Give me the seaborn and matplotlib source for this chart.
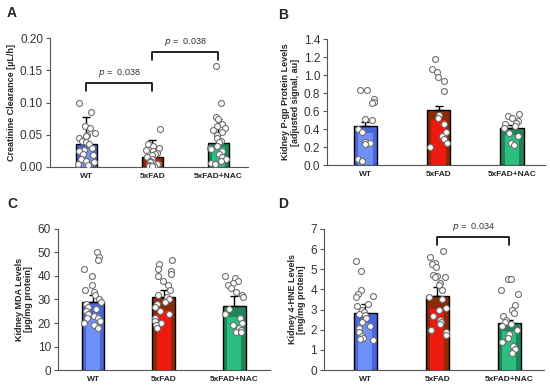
import numpy as np
import pandas as pd
import seaborn as sns
import matplotlib.pyplot as plt

groups = ['WT', '5xFAD', '5xFAD+NAC']

# A - creatinine clearance
a_wt = [0.100, 0.086, 0.063, 0.061, 0.053, 0.050, 0.048, 0.045, 0.040, 0.038, 0.035,
        0.030, 0.027, 0.025, 0.020, 0.018, 0.012, 0.010, 0.008, 0.005, 0.003]
a_fad = [0.059, 0.036, 0.033, 0.030, 0.027, 0.025, 0.022, 0.020, 0.018, 0.015, 0.012,
         0.010, 0.008, 0.007, 0.005, 0.004, 0.003, 0.002, 0.002, 0.001]
a_nac = [0.156, 0.099, 0.077, 0.074, 0.066, 0.063, 0.060, 0.058, 0.055, 0.050, 0.045,
         0.040, 0.038, 0.033, 0.030, 0.028, 0.025, 0.020, 0.015, 0.012, 0.010, 0.006, 0.004]
a_mean = [0.036, 0.015, 0.037]
a_err = [0.041, 0.027, 0.038]

# B - P-gp
b_wt = [0.83, 0.83, 0.74, 0.70, 0.69, 0.51, 0.50, 0.40, 0.37, 0.26, 0.24, 0.23, 0.07, 0.05, 0.04]
b_fad = [1.18, 1.07, 1.03, 0.98, 0.94, 0.82, 0.56, 0.52, 0.46, 0.37, 0.32, 0.29, 0.24, 0.20]
b_nac = [0.57, 0.54, 0.52, 0.49, 0.47, 0.46, 0.43, 0.41, 0.36, 0.32, 0.24, 0.22]
b_mean = [0.43, 0.61, 0.41]
b_err = [0.05, 0.05, 0.03]

# C - MDA
c_wt = [50, 48, 47, 43, 40, 36, 34, 33, 32, 30, 29, 28, 27, 26, 25, 24, 23, 22, 22, 21, 20, 19, 18]
c_fad = [47, 45, 43, 42, 41, 40, 38, 36, 34, 32, 31, 30, 29, 28, 27, 25, 24, 22, 21, 20, 19, 18]
c_nac = [40, 39, 38, 37, 36, 35, 33, 32, 31, 26, 24, 22, 20, 19, 18, 17, 16, 16]
c_mean = [29.0, 31.0, 27.3]
c_err = [3.0, 3.0, 4.0]

# D - 4-HNE
d_wt = [5.4, 4.9, 3.95, 3.75, 3.65, 3.6, 3.3, 3.2, 3.0, 2.9, 2.8, 2.75, 2.6, 2.4, 2.2,
        2.1, 1.9, 1.7, 1.6, 1.55, 1.5]
d_fad = [5.9, 5.6, 5.3, 5.25, 5.1, 4.7, 4.65, 4.6, 4.6, 4.3, 4.2, 3.95, 3.6, 3.5, 3.1,
         3.0, 2.7, 2.5, 2.4, 2.3, 2.0, 1.9, 1.75]
d_nac = [4.5, 4.5, 3.95, 3.75, 3.25, 3.0, 2.85, 2.7, 2.5, 2.4, 2.3, 2.2, 2.0, 1.8, 1.6,
         1.4, 1.2, 1.05, 0.85]
d_mean = [2.85, 3.68, 2.35]
d_err = [0.45, 0.45, 0.15]

sns.set_style('ticks')
plt.rcParams['font.family'] = ['Liberation Sans', 'DejaVu Sans']
np.random.seed(7)

outer = ['#4a66dc', '#8a2a06', '#1d8556']
inner = ['#6f90f4', '#ee1a10', '#2cbd80']

fig = plt.figure(figsize=(5.5, 3.92), dpi=100)

panels = [
    dict(pos=[0.091, 0.574, 0.36, 0.329], xlim=(-0.55, 2.45), ylim=(0, 0.2), step=0.05, fmt='%.2f',
         pts=[a_wt, a_fad, a_nac], mean=a_mean, err=a_err, letter='A', lx=0.013,
         ylabel='Creatinine Clearance [µL/h]',
         brackets=[(0, 1, 0.13, 0.012, '038'), (1, 2, 0.178, 0.012, '038')]),
    dict(pos=[0.595, 0.579, 0.396, 0.321], xlim=(-0.52, 2.45), ylim=(0, 1.4), step=0.2, fmt='%.1f',
         pts=[b_wt, b_fad, b_nac], mean=b_mean, err=b_err, letter='B', lx=0.505,
         ylabel='Kidney P-gp Protein Levels\n[adjusted signal, au]', brackets=[]),
    dict(pos=[0.105, 0.056, 0.385, 0.36], xlim=(-0.5, 2.5), ylim=(0, 60), step=10, fmt='%d',
         pts=[c_wt, c_fad, c_nac], mean=c_mean, err=c_err, letter='C', lx=0.013,
         ylabel='Kidney MDA Levels\n[µg/mg protein]', brackets=[]),
    dict(pos=[0.589, 0.056, 0.40, 0.36], xlim=(-0.57, 2.48), ylim=(0, 7), step=1, fmt='%d',
         pts=[d_wt, d_fad, d_nac], mean=d_mean, err=d_err, letter='D', lx=0.505,
         ylabel='Kidney 4-HNE Levels\n[mg/mg protein]',
         brackets=[(1, 2, 6.6, 0.4, '034')]),
]

bw = 0.32
for p in panels:
    ax = fig.add_axes(p['pos'])
    x = np.arange(3)
    ax.bar(x, p['mean'], width=bw, color=outer, edgecolor='black', linewidth=1.0, zorder=1)
    ax.bar(x, np.array(p['mean']) * 0.82, width=bw * 0.62, color=inner, linewidth=0, zorder=1.5)
    ax.errorbar(x, p['mean'], yerr=[np.zeros(3), p['err']], fmt='none', ecolor='black',
                elinewidth=1.0, capsize=3, capthick=1.0, zorder=2)
    df = pd.DataFrame({'grupo': np.repeat(groups, [len(v) for v in p['pts']]),
                       'valor': np.concatenate(p['pts'])})
    sns.stripplot(data=df, x='grupo', y='valor', order=groups, ax=ax, color='white',
                  edgecolor='#707070', linewidth=0.8, size=4.3, jitter=0.13, zorder=3)
    ax.set_xlim(*p['xlim'])
    ax.set_ylim(*p['ylim'])
    ticks = np.arange(0, p['ylim'][1] + p['step'] / 2, p['step'])
    ax.set_yticks(ticks)
    ax.set_yticklabels([p['fmt'] % t for t in ticks], fontsize=8.5, color='#333333')
    ax.set_xticks(x)
    ax.set_xticklabels(groups, fontsize=6, fontweight='bold')
    ax.tick_params(axis='x', length=0, pad=4)
    ax.tick_params(axis='y', length=3, width=0.8, colors='#555555', labelcolor='#333333', pad=2)
    ax.set_xlabel(None)
    ax.set_ylabel(p['ylabel'], fontsize=6.5, fontweight='bold', labelpad=3, linespacing=1.1)
    sns.despine(ax=ax)
    ax.spines['left'].set_color('#555555')
    ax.spines['bottom'].set_color('#555555')
    for i, j, h, d, pv in p['brackets']:
        ax.plot([i, i, j, j], [h - d, h, h, h - d], color='black', lw=1.2, clip_on=False)
        ax.text((i + j) / 2, h + d * 0.5, r'$\it{p}$ =  0.' + pv,
                ha='center', va='bottom', fontsize=6.5, color='#333333')
    fig.text(p['lx'], p['pos'][1] + p['pos'][3] + 0.045, p['letter'],
             fontsize=10, fontweight='bold', ha='left', va='bottom')

fig.savefig('out.png', dpi=100)
